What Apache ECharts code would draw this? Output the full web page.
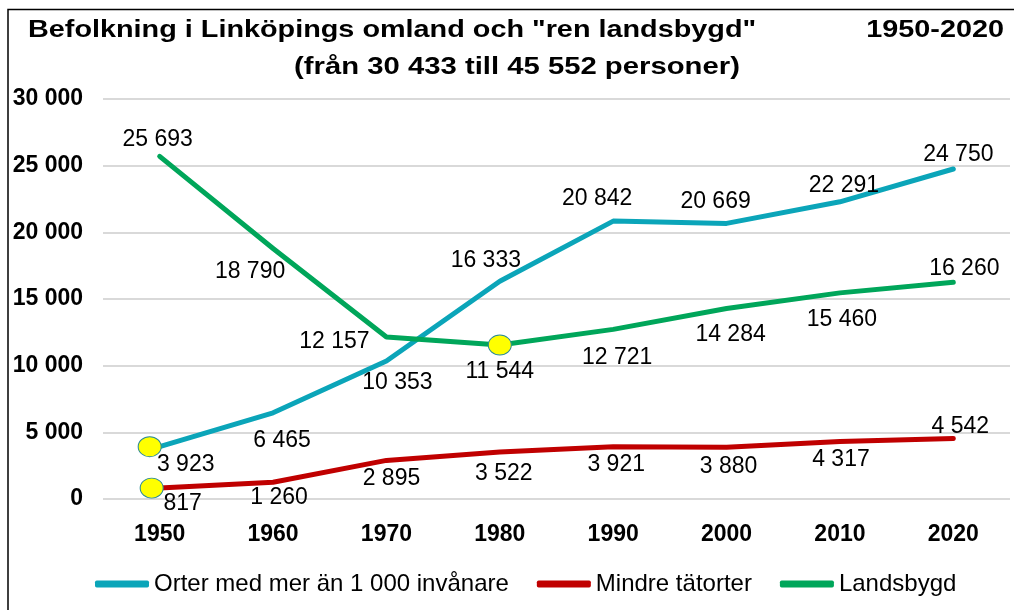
<!DOCTYPE html>
<html>
<head>
<meta charset="utf-8">
<script src="https://cdn.jsdelivr.net/npm/echarts@6/dist/echarts.min.js"></script>
<style>
  html, body { margin: 0; padding: 0; background: #fff; }
  #chart { width: 1014px; height: 610px; }
</style>
</head>
<body>
<div id="chart"></div>
<script>
// data
var years = ['1950', '1960', '1970', '1980', '1990', '2000', '2010', '2020']
var orter = [3923, 6465, 10353, 16333, 20842, 20669, 22291, 24750]
var mindre = [817, 1260, 2895, 3522, 3921, 3880, 4317, 4542]
var landsbygd = [25693, 18790, 12157, 11544, 12721, 14284, 15460, 16260]
var yTicks = [0, 5000, 10000, 15000, 20000, 25000, 30000]

// label offsets (pixel, from the point)
var orterOff = [[26, 18], [9, 28], [11, 22], [-14, -21], [-16, -22], [-11, -22], [4, -16], [5, -14]]
var mindreOff = [[23, 16], [6, 15], [5, 18], [4, 22], [3, 18], [2, 19], [1, 18], [7, -12]]
var landOff = [[-2, -17], [-23, 23], [-52, 5], [0, 27], [4, 28], [4, 26], [2, 27], [11, -14]]

function fmt(v) {
  return String(v).replace(/\B(?=(\d{3})+(?!\d))/g, ' ')
}

function withLabels(values, offs) {
  return values.map(function (v, i) {
    return { value: v, label: { offset: offs[i] } }
  })
}

var yellowDot = {
  symbol: 'circle',
  symbolSize: [23, 20],
  itemStyle: { color: '#FFFF00', borderColor: '#2b8a96', borderWidth: 1 },
  label: { show: false },
  silent: true
}

function makeLine(name, color, values, offs, marks) {
  return {
    name: name,
    type: 'line',
    data: withLabels(values, offs),
    symbol: 'circle',
    symbolSize: 1,
    showSymbol: true,
    itemStyle: { color: color },
    lineStyle: { color: color, width: 5, cap: 'round', join: 'round' },
    label: {
      show: true,
      position: 'inside',
      color: '#000',
      fontFamily: 'Liberation Sans, Arial, sans-serif',
      fontSize: 23,
      formatter: function (p) { return fmt(p.value) }
    },
    markPoint: marks ? Object.assign({ data: marks }, yellowDot) : undefined,
    z: 2
  }
}

var chart = echarts.init(document.getElementById('chart'))

var titleFont = 'bold 24px "Liberation Sans", Arial, sans-serif'

var option = {
  animation: false,
  backgroundColor: '#fff',
  textStyle: { fontFamily: 'Liberation Sans, Arial, sans-serif' },
  grid: { left: 103, right: 4, top: 99, bottom: 111 },
  graphic: [
    {
      type: 'rect', silent: true,
      shape: { x: 8, y: 9.5, width: 1030, height: 630 },
      style: { fill: 'none', stroke: '#000', lineWidth: 1.5 }
    },
    {
      type: 'text', x: 28, y: 30, scaleX: 1.2,
      style: {
        text: 'Befolkning i Linköpings omland och "ren landsbygd"',
        font: titleFont, fill: '#000', textAlign: 'left', textVerticalAlign: 'middle'
      }
    },
    {
      type: 'text', x: 294, y: 67, scaleX: 1.22,
      style: {
        text: '(från 30 433 till 45 552 personer)',
        font: titleFont, fill: '#000', textAlign: 'left', textVerticalAlign: 'middle'
      }
    },
    {
      type: 'text', x: 1004, y: 30, scaleX: 1.2,
      style: {
        text: '1950-2020',
        font: titleFont, fill: '#000', textAlign: 'right', textVerticalAlign: 'middle'
      }
    }
  ],
  legend: {
    left: 90,
    top: 567,
    icon: 'roundRect',
    itemWidth: 54,
    itemHeight: 7,
    itemGap: 28,
    textStyle: { fontSize: 24, color: '#000', fontFamily: 'Liberation Sans, Arial, sans-serif' },
    data: ['Orter med mer än 1 000 invånare', 'Mindre tätorter', 'Landsbygd']
  },
  xAxis: {
    type: 'category',
    data: years,
    boundaryGap: true,
    axisLine: { show: false },
    axisTick: { show: false },
    axisLabel: { margin: 24, fontSize: 23, fontWeight: 'bold', color: '#000' }
  },
  yAxis: {
    type: 'value',
    min: yTicks[0],
    max: yTicks[yTicks.length - 1],
    interval: 5000,
    axisLine: { show: false },
    axisTick: { show: false },
    splitLine: { lineStyle: { color: '#D9D9D9', width: 2 } },
    axisLabel: {
      margin: 20, fontSize: 23, fontWeight: 'bold', color: '#000',
      verticalAlign: 'middle', padding: [8, 0, 0, 0],
      formatter: function (v) { return fmt(v) }
    }
  },
  series: [
    makeLine('Orter med mer än 1 000 invånare', '#0BA5B9', orter, orterOff,
      [{ coord: [years[0], orter[0]], symbolOffset: [-10, 0] }]),
    makeLine('Mindre tätorter', '#C00000', mindre, mindreOff,
      [{ coord: [years[0], mindre[0]], symbolOffset: [-8, 0] }]),
    makeLine('Landsbygd', '#00A65A', landsbygd, landOff,
      [{ coord: [years[3], landsbygd[3]] }])
  ]
}

chart.setOption(option)
</script>
</body>
</html>
